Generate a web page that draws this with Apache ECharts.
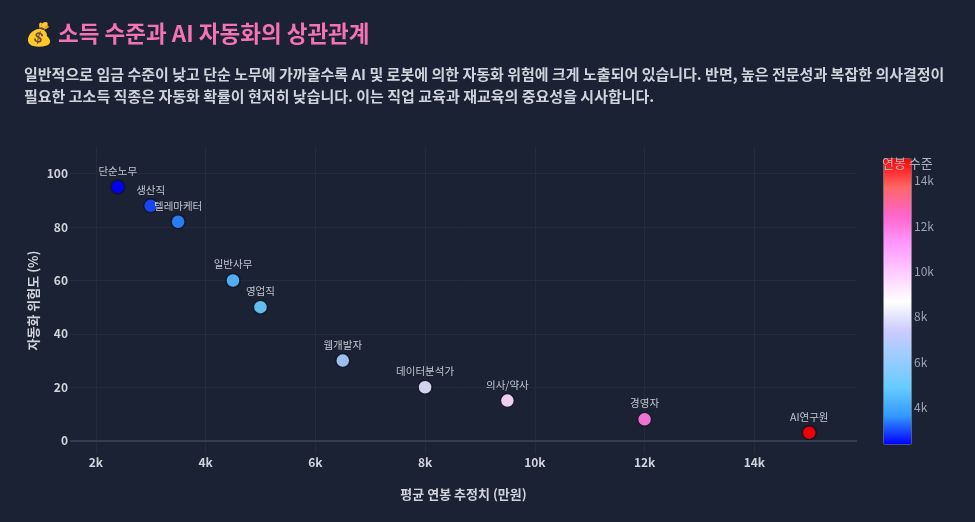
<!DOCTYPE html>
<html><head><meta charset="utf-8">
<script src="https://cdn.jsdelivr.net/npm/echarts@6/dist/echarts.min.js"></script>
<style>html,body{margin:0;padding:0;background:#1b2234;} #c{width:975px;height:522px;}</style>
</head><body><div id="c"></div>
<script>
const jobs = ['단순노무','생산직','텔레마케터','일반사무','영업직','웹개발자','데이터분석가','의사/약사','경영자','AI연구원'];
const salary = [2400,3000,3500,4500,5000,6500,8000,9500,12000,15000];
const risk = [95,88,82,60,50,30,20,15,8,3];
const xTicks = [2000,4000,6000,8000,10000,12000,14000];
const yTicks = [0,20,40,60,80,100];
const colorTicks = [4000,6000,8000,10000,12000,14000];
const picnic = ['rgb(0,0,255)','rgb(51,153,255)','rgb(102,204,255)','rgb(153,204,255)','rgb(204,204,255)','rgb(255,255,255)','rgb(255,204,255)','rgb(255,153,255)','rgb(255,102,204)','rgb(255,102,102)','rgb(255,0,0)'];
const titleText = '💰 소득 수준과 AI 자동화의 상관관계';
const subText = '일반적으로 임금 수준이 낮고 단순 노무에 가까울수록 AI 및 로봇에 의한 자동화 위험에 크게 노출되어 있습니다. 반면, 높은 전문성과 복잡한 의사결정이\n필요한 고소득 직종은 자동화 확률이 현저히 낮습니다. 이는 직업 교육과 재교육의 중요성을 시사합니다.';

const FONT = '"Noto Sans CJK KR","Noto Sans",sans-serif';
const points = salary.map((s,i)=>[s, risk[i], jobs[i]]);
const kfmt = v => (v/1000)+'k';

const chart = echarts.init(document.getElementById('c'));
chart.setOption({
  backgroundColor:'#1b2234',
  textStyle:{fontFamily:FONT},
  title:[
    {text:titleText, left:20, top:17, textStyle:{fontFamily:FONT, fontSize:22.5, fontWeight:'bold', color:'#f472b6'}},
    {text:subText, left:19, top:58, textStyle:{fontFamily:FONT, fontSize:15, fontWeight:'bold', color:'#cfd4dc', lineHeight:22}}
  ],
  grid:[
    {left:70, right:118, top:147, bottom:68},
    {left:883, top:158, width:28, height:286}
  ],
  xAxis:[
    {type:'value', gridIndex:0, min:1530, max:15870,
     name:'평균 연봉 추정치 (만원)', nameLocation:'middle', nameGap:34,
     nameTextStyle:{fontFamily:FONT, fontSize:13, fontWeight:'bold', color:'#cfd3da'},
     axisLine:{show:false}, axisTick:{show:false, customValues:xTicks},
     axisLabel:{customValues:xTicks, formatter:kfmt, color:'#cfd3da', fontSize:12, fontWeight:'bold', margin:2},
     splitLine:{show:true, lineStyle:{color:'#232b3c', width:1}}},
    {type:'value', gridIndex:1, min:0, max:1, show:false}
  ],
  yAxis:[
    {type:'value', gridIndex:0, min:-5, max:110,
     name:'자동화 위험도 (%)', nameLocation:'middle', nameGap:30, nameMoveOverlap:false,
     nameTextStyle:{fontFamily:FONT, fontSize:13, fontWeight:'bold', color:'#cfd3da'},
     axisLine:{show:false}, axisTick:{show:false, customValues:yTicks},
     axisLabel:{customValues:yTicks, color:'#cfd3da', fontSize:12, fontWeight:'bold', margin:2},
     splitLine:{show:true, lineStyle:{color:'#232b3c', width:1}}},
    {type:'value', gridIndex:1, min:2400, max:15000, position:'right',
     axisLine:{show:false}, axisTick:{show:false}, splitLine:{show:false},
     axisLabel:{customValues:colorTicks, formatter:kfmt, color:'#9aa2ae', fontSize:12, margin:3}}
  ],
  visualMap:{
    type:'continuous', min:2400, max:15000, dimension:0, seriesIndex:0,
    inRange:{color:picnic}, calculable:false, left:883, top:158,
    itemWidth:28, itemHeight:286, padding:0, text:null, showLabel:false,
    borderColor:'#3d4452', borderWidth:1
  },
  graphic:[
    {type:'text', left:882, top:157, z:100, style:{text:'연봉 수준', fill:'#aeb4be', fontSize:13, fontFamily:FONT}}
  ],
  series:[
    {type:'scatter', xAxisIndex:0, yAxisIndex:0, data:points, symbolSize:14,
     itemStyle:{opacity:0.92, borderColor:'#111624', borderWidth:1.5},
     label:{show:true, position:'top', distance:3, formatter:p=>p.data[2], color:'#cfd3da', fontSize:10.5, fontFamily:FONT},
     markLine:{silent:true, symbol:'none', label:{show:false},
       lineStyle:{color:'#343d4e', width:2, type:'solid'}, data:[{yAxis:0}]}}
  ]
});
</script></body></html>
